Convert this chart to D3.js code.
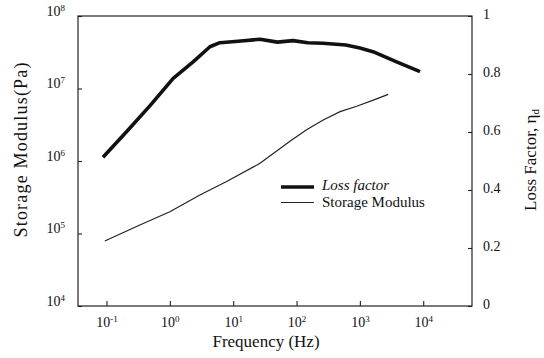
<!DOCTYPE html>
<html>
<head>
<meta charset="utf-8" />
<title>Storage Modulus and Loss Factor</title>
<script src="https://d3js.org/d3.v7.min.js"></script>
<style type="text/css">
	body { margin: 0; background: #fff; }
	text { font-family: "Liberation Serif", "Times New Roman", serif; fill: #111; }
	.domain { stroke: none; }
	.tick line { stroke: #222; stroke-width: 1.1; }
</style>
</head>
<body>
<script>
	// frequency (Hz) and loss factor
	const lossFreq = [0.088, 0.207, 0.483, 1.13, 2.33, 4.29, 6.17, 12, 26.5, 50, 88, 150, 261, 600, 1000, 1610, 3800, 8900];
	const lossValue = [0.513, 0.601, 0.69, 0.785, 0.842, 0.894, 0.908, 0.913, 0.92, 0.91, 0.915, 0.908, 0.906, 0.9, 0.89, 0.877, 0.842, 0.808];

	// frequency (Hz) and storage modulus (Pa)
	const modFreq = [0.094, 0.336, 1, 2.98, 7.87, 26.5, 78.7, 144, 264, 487, 890, 1630, 2800];
	const modValue = [7.9e4, 1.31e5, 2.0e5, 3.4e5, 5.2e5, 9.3e5, 1.87e6, 2.69e6, 3.68e6, 4.8e6, 5.7e6, 6.9e6, 8.3e6];

	// tick labels
	const xTickExp = [-1, 0, 1, 2, 3, 4];
	const yTickExp = [4, 5, 6, 7, 8];
	const lossTicks = [0, 0.2, 0.4, 0.6, 0.8, 1];
	const lossTickLabels = ["0", "0.2", "0.4", "0.6", "0.8", "1"];

	const width = 544;
	const height = 358;
	const plotLeft = 78, plotRight = 472, plotTop = 16, plotBottom = 306;

	const svg = d3.select("body")
		.append("svg")
		.attr("width", width)
		.attr("height", height);

	const x = d3.scaleLog()
		.domain([Math.pow(10, -1.45), Math.pow(10, 4.77)])
		.range([plotLeft, plotRight]);

	const yMod = d3.scaleLog()
		.domain([1e4, 1e8])
		.range([plotBottom, plotTop]);

	const yLoss = d3.scaleLinear()
		.domain([0, 1])
		.range([plotBottom, plotTop]);

	// writes "10" with a raised exponent into a tick label
	function powerLabel(sel, exps) {
		sel.selectAll(".tick text").each(function(d, i) {
			const t = d3.select(this);
			t.text("10");
			t.append("tspan")
				.attr("dy", "-0.55em")
				.attr("font-size", "9px")
				.text(exps[i] < 0 ? "-" + Math.abs(exps[i]) : exps[i]);
		});
	}

	const gx = svg.append("g")
		.attr("transform", "translate(0," + plotBottom + ")")
		.call(d3.axisBottom(x)
			.tickValues(xTickExp.map(e => Math.pow(10, e)))
			.tickSize(-5)
			.tickPadding(11));
	gx.selectAll("text").attr("font-size", "14px");
	powerLabel(gx, xTickExp);

	const gy = svg.append("g")
		.attr("transform", "translate(" + plotLeft + ",0)")
		.call(d3.axisLeft(yMod)
			.tickValues(yTickExp.map(e => Math.pow(10, e)))
			.tickSize(-4)
			.tickPadding(13));
	gy.selectAll("text").attr("font-size", "14px").attr("dy", "-0.05em");
	powerLabel(gy, yTickExp);

	const gr = svg.append("g")
		.attr("transform", "translate(" + plotRight + ",0)")
		.call(d3.axisRight(yLoss)
			.tickValues(lossTicks)
			.tickFormat((d, i) => lossTickLabels[i])
			.tickSize(-4)
			.tickPadding(11));
	gr.selectAll("text").attr("font-size", "14px").attr("dy", "0.2em");

	// frame
	svg.append("rect")
		.attr("x", plotLeft)
		.attr("y", plotTop)
		.attr("width", plotRight - plotLeft)
		.attr("height", plotBottom - plotTop)
		.attr("fill", "none")
		.attr("stroke", "#222")
		.attr("stroke-width", 1.2);

	const lossLine = d3.line()
		.x((d, i) => x(lossFreq[i]))
		.y(d => yLoss(d));

	const modLine = d3.line()
		.x((d, i) => x(modFreq[i]))
		.y(d => yMod(d));

	svg.append("path")
		.attr("d", lossLine(lossValue))
		.attr("fill", "none")
		.attr("stroke", "#111")
		.attr("stroke-width", 3.6)
		.attr("stroke-linejoin", "round");

	svg.append("path")
		.attr("d", modLine(modValue))
		.attr("fill", "none")
		.attr("stroke", "#222")
		.attr("stroke-width", 1.2);

	// legend
	const legend = svg.append("g");
	legend.append("line")
		.attr("x1", 281).attr("x2", 314)
		.attr("y1", 187).attr("y2", 187)
		.attr("stroke", "#111").attr("stroke-width", 3.6);
	legend.append("line")
		.attr("x1", 281).attr("x2", 314)
		.attr("y1", 202.5).attr("y2", 202.5)
		.attr("stroke", "#222").attr("stroke-width", 1.2);
	legend.append("text")
		.attr("x", 322).attr("y", 189.5)
		.attr("font-size", "15px")
		.attr("font-style", "italic")
		.text("Loss factor");
	legend.append("text")
		.attr("x", 322).attr("y", 206.5)
		.attr("font-size", "15px")
		.text("Storage Modulus");

	// axis titles
	svg.append("text")
		.attr("x", 266)
		.attr("y", 347)
		.attr("text-anchor", "middle")
		.attr("font-size", "17px")
		.text("Frequency (Hz)");

	svg.append("text")
		.attr("transform", "translate(27,150) rotate(-90)")
		.attr("text-anchor", "middle")
		.attr("font-size", "18px")
		.attr("textLength", 175)
		.attr("lengthAdjust", "spacing")
		.text("Storage Modulus(Pa)");

	const rt = svg.append("text")
		.attr("transform", "translate(536,160) rotate(-90)")
		.attr("text-anchor", "middle")
		.attr("font-size", "17px");
	rt.append("tspan").text("Loss Factor, \u03b7");
	rt.append("tspan").attr("dy", "0.3em").attr("font-size", "11px").text("d");
</script>
</body>
</html>
